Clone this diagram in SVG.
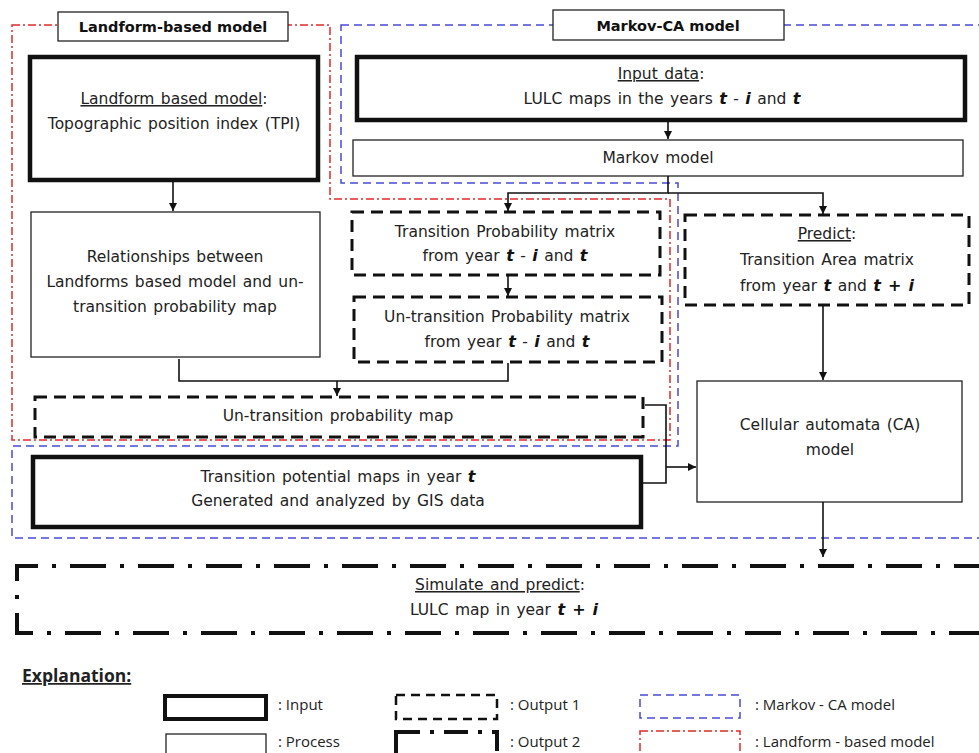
<svg xmlns="http://www.w3.org/2000/svg" width="979" height="753" viewBox="0 0 979 753">
<defs>
<marker id="arr" markerWidth="9" markerHeight="9" refX="8" refY="4" orient="auto" markerUnits="userSpaceOnUse"><path d="M0,0 L8,4 L0,8 z" fill="#111"/></marker>
<style>
text{font-family:"DejaVu Sans",Verdana,sans-serif;font-size:15.5px;word-spacing:1.5px;fill:#222;text-anchor:middle}
.title{font-weight:bold;font-size:14.5px;word-spacing:0;fill:#111}
.it{font-weight:bold;font-style:italic;fill:#111;font-size:16px}
.u{text-decoration:underline}
.leg{font-family:"Open Sans","Liberation Sans",sans-serif;font-size:15px;word-spacing:0;text-anchor:start}
.inp{fill:#fff;stroke:#111;stroke-width:4.5}
.proc{fill:#fff;stroke:#222;stroke-width:1.3}
.out1{fill:#fff;stroke:#111;stroke-width:3;stroke-dasharray:12 7}
.out2{fill:none;stroke:#111;stroke-width:4;stroke-dasharray:36 14 4 14}
.blue{fill:none;stroke:#4a4ad8;stroke-width:1.5;stroke-dasharray:8 5}
.red{fill:none;stroke:#e02a2a;stroke-width:1.5;stroke-dasharray:8 3 2 3}
.con{fill:none;stroke:#111;stroke-width:1.6}
</style>
</defs>
<rect width="979" height="753" fill="#fff"/>

<g id="regions">
<path class="blue" d="M341,25 H985 V538 H12 V446 H678 V183 H341 Z"/>
<path class="red" d="M12,25 H330 V199 H670 V440 H12 Z"/>
</g>

<g id="title-landform">
<rect x="58" y="12" width="230" height="29" fill="#fff" stroke="#222" stroke-width="1.3"/>
<text class="title" x="173" y="32">Landform-based model</text>
</g>
<g id="title-markov">
<rect x="553" y="10" width="231" height="30" fill="#fff" stroke="#222" stroke-width="1.3"/>
<text class="title" x="668" y="31">Markov-CA model</text>
</g>

<g id="tpi">
<rect class="inp" x="30" y="57" width="288" height="123"/>
<text x="174" y="104"><tspan class="u">Landform based model</tspan>:</text>
<text x="174" y="129">Topographic position index (TPI)</text>
</g>

<g id="input-data">
<rect class="inp" x="357" y="57" width="608" height="63"/>
<text x="661" y="79"><tspan class="u">Input data</tspan>:</text>
<text x="662" y="104">LULC maps in the years <tspan class="it">t</tspan> - <tspan class="it">i</tspan> and <tspan class="it">t</tspan></text>
</g>

<g id="markov">
<rect class="proc" x="353" y="140" width="610" height="36"/>
<text x="658" y="163">Markov model</text>
</g>

<g id="tpm">
<rect class="out1" x="352" y="212" width="308" height="63"/>
<text x="505" y="237">Transition Probability matrix</text>
<text x="505" y="261">from year <tspan class="it">t</tspan> - <tspan class="it">i</tspan> and <tspan class="it"> t</tspan></text>
</g>

<g id="utpm">
<rect class="out1" x="354" y="297" width="308" height="65"/>
<text x="507" y="322">Un-transition Probability matrix</text>
<text x="507" y="347">from year <tspan class="it">t</tspan> - <tspan class="it">i</tspan> and <tspan class="it"> t</tspan></text>
</g>

<g id="relationships">
<rect class="proc" x="31" y="212" width="289" height="145"/>
<text x="175" y="262">Relationships between</text>
<text x="175" y="287">Landforms based model and un-</text>
<text x="175" y="312">transition probability map</text>
</g>

<g id="utp-map">
<rect class="out1" x="35" y="397" width="608" height="40"/>
<text x="338" y="421">Un-transition probability map</text>
</g>

<g id="potential">
<rect class="inp" x="33" y="457" width="608" height="70"/>
<text x="338" y="482">Transition potential maps in year <tspan class="it">t</tspan></text>
<text x="338" y="506">Generated and analyzed by GIS data</text>
</g>

<g id="predict">
<rect class="out1" x="685" y="215" width="284" height="90"/>
<text x="827" y="239"><tspan class="u">Predict</tspan>:</text>
<text x="827" y="265">Transition Area matrix</text>
<text x="827" y="291">from year <tspan class="it">t</tspan> and <tspan class="it"> t + i</tspan></text>
</g>

<g id="ca">
<rect class="proc" x="697" y="381" width="265" height="121"/>
<text x="830" y="430">Cellular automata (CA)</text>
<text x="830" y="455">model</text>
</g>

<g id="simulate">
<path class="out2" d="M990,566 H17 V633 H990"/>
<text x="500" y="590"><tspan class="u">Simulate and predict</tspan>:</text>
<text x="504" y="615">LULC map in year <tspan class="it">t + i</tspan></text>
</g>

<g id="connectors">
<path class="con" d="M173,182 V211" marker-end="url(#arr)"/>
<path class="con" d="M668,122 V139" marker-end="url(#arr)"/>
<path class="con" d="M668,176 V193 H508 V211" marker-end="url(#arr)"/>
<path class="con" d="M668,193 H823 V214" marker-end="url(#arr)"/>
<path class="con" d="M508,276 V296" marker-end="url(#arr)"/>
<path class="con" d="M179,359 V381 H508 V363"/>
<path class="con" d="M337,381 V396" marker-end="url(#arr)"/>
<path class="con" d="M645,405 H666 V483 H643"/>
<path class="con" d="M666,467 H696" marker-end="url(#arr)"/>
<path class="con" d="M823,306 V380" marker-end="url(#arr)"/>
<path class="con" d="M823,502 V557" marker-end="url(#arr)"/>
</g>

<g id="legend">
<text x="22" y="682" style="font-weight:bold;text-anchor:start;text-decoration:underline;font-family:'Open Sans','Liberation Sans',sans-serif;font-size:17.5px;word-spacing:0">Explanation:</text>
<rect x="165" y="696" width="101" height="23" fill="#fff" stroke="#111" stroke-width="4"/>
<text class="leg" x="278" y="710">: Input</text>
<rect x="166" y="734" width="100" height="30" fill="#fff" stroke="#222" stroke-width="1.3"/>
<text class="leg" x="278" y="747">: Process</text>
<rect x="396" y="695" width="101" height="24" fill="none" stroke="#111" stroke-width="2.5" stroke-dasharray="9 6"/>
<text class="leg" x="510" y="710">: Output 1</text>
<rect x="396" y="732" width="101" height="30" fill="none" stroke="#111" stroke-width="4" stroke-dasharray="24 10 4 10"/>
<text class="leg" x="510" y="747">: Output 2</text>
<rect x="640" y="695" width="100" height="23" class="blue"/>
<text class="leg" x="755" y="710">: Markov - CA model</text>
<rect x="640" y="731" width="100" height="30" class="red"/>
<text class="leg" x="755" y="747">: Landform - based model</text>
</g>
</svg>
